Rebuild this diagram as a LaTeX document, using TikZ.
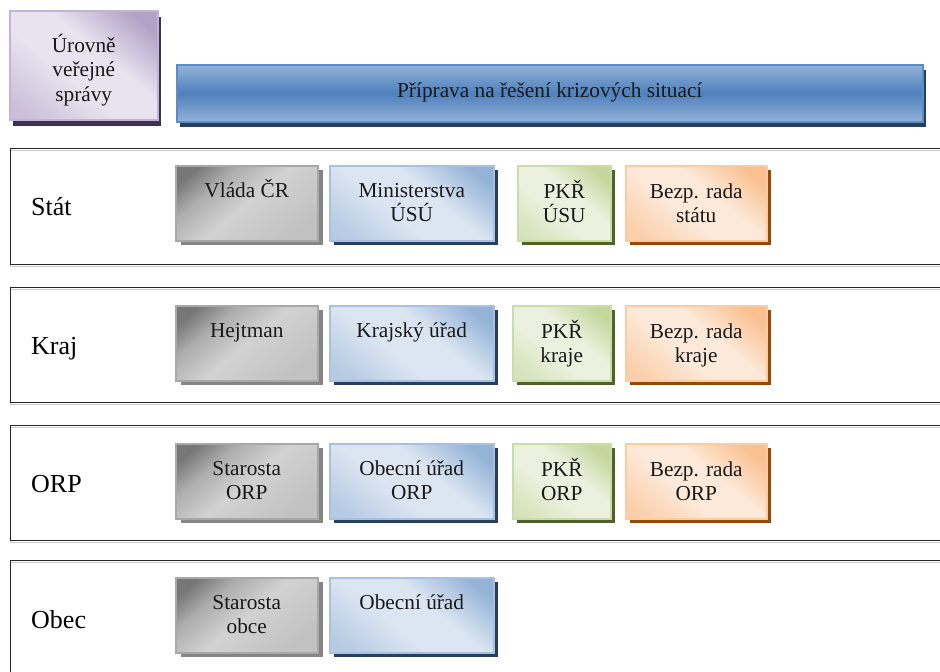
\documentclass[tikz,border=0pt]{standalone}
\usepackage{fontspec}
\setmainfont{Liberation Serif}
\definecolor{gDark}{HTML}{777777}
\definecolor{gLight}{HTML}{D2D2D2}
\definecolor{gMid}{HTML}{C2C2C2}
\definecolor{gBorder}{HTML}{A8A8A8}
\definecolor{gShadow}{HTML}{858585}
\definecolor{bLight}{HTML}{DCE6F2}
\definecolor{bDark}{HTML}{95B3D7}
\definecolor{bBorder}{HTML}{A9C1DF}
\definecolor{bShadow}{HTML}{254061}
\definecolor{grLight}{HTML}{EBF1DE}
\definecolor{grDark}{HTML}{C3D69B}
\definecolor{grBorder}{HTML}{CBDCA8}
\definecolor{grShadow}{HTML}{4F6228}
\definecolor{oLight}{HTML}{FDE9D9}
\definecolor{oDark}{HTML}{FAC090}
\definecolor{oBorder}{HTML}{FBCBA4}
\definecolor{oShadow}{HTML}{984807}
\definecolor{pLight}{HTML}{E8E3EF}
\definecolor{pDark}{HTML}{B3A2C7}
\definecolor{pBorder}{HTML}{C2B4D6}
\definecolor{pShadow}{HTML}{3F3151}
\definecolor{hLight}{HTML}{95B3D7}
\definecolor{hDark}{HTML}{4F81BD}
\definecolor{hBorder}{HTML}{5B8CC8}
\definecolor{hShadow}{HTML}{243F60}
% vertical shadings: color(0bp) is at the bottom, color(100bp) at the top
\pgfdeclareverticalshading{graySh}{100bp}{color(0bp)=(gMid); color(25bp)=(gMid); color(50bp)=(gLight); color(66bp)=(gLight!60!gDark); color(78bp)=(gDark); color(100bp)=(gDark)}
\pgfdeclareverticalshading{blueSh}{100bp}{color(0bp)=(bDark!70!bLight); color(22bp)=(bDark!50!bLight); color(42bp)=(bLight); color(58bp)=(bLight); color(78bp)=(bDark); color(100bp)=(bDark)}
\pgfdeclareverticalshading{greenSh}{100bp}{color(0bp)=(grDark!70!grLight); color(22bp)=(grDark!50!grLight); color(42bp)=(grLight); color(58bp)=(grLight); color(78bp)=(grDark); color(100bp)=(grDark)}
\pgfdeclareverticalshading{orangeSh}{100bp}{color(0bp)=(oDark!80!oLight); color(22bp)=(oDark!60!oLight); color(42bp)=(oLight); color(58bp)=(oLight); color(78bp)=(oDark); color(100bp)=(oDark)}
\pgfdeclareverticalshading{purpleSh}{100bp}{color(0bp)=(pDark!80!pLight); color(22bp)=(pDark!50!pLight); color(42bp)=(pLight); color(58bp)=(pLight); color(78bp)=(pDark); color(100bp)=(pDark)}
\pgfdeclareverticalshading{headSh}{100bp}{color(0bp)=(hLight); color(25bp)=(hLight); color(42bp)=(hDark!70!hLight); color(50bp)=(hDark); color(58bp)=(hDark!70!hLight); color(75bp)=(hLight); color(100bp)=(hLight)}
\tikzset{
  sbox/.style={inner sep=0pt, line width=1.5pt},
  graybox/.style={sbox, draw=gBorder,
    preaction={fill=gShadow, transform canvas={xshift=5pt,yshift=-4pt}},
    shading=graySh, shading angle=40},
  bluebox/.style={sbox, draw=bBorder,
    preaction={fill=bShadow, transform canvas={xshift=4pt,yshift=-4pt}},
    shading=blueSh, shading angle=-40},
  greenbox/.style={sbox, draw=grBorder,
    preaction={fill=grShadow, transform canvas={xshift=4pt,yshift=-4pt}},
    shading=greenSh, shading angle=-40},
  orangebox/.style={sbox, draw=oBorder,
    preaction={fill=oShadow, transform canvas={xshift=4pt,yshift=-4pt}},
    shading=orangeSh, shading angle=-40},
  purplebox/.style={sbox, draw=pBorder,
    preaction={fill=pShadow, transform canvas={xshift=3pt,yshift=-6pt}},
    shading=purpleSh, shading angle=-40},
  headbox/.style={sbox, draw=hBorder,
    preaction={fill=hShadow, transform canvas={xshift=3pt,yshift=-5pt}},
    shading=headSh},
  frame/.style={draw=black!85, line width=1.3pt, inner sep=0pt, anchor=north west,
    preaction={draw=black!20, line width=1pt, transform canvas={yshift=-1.5pt}}},
  lbl/.style={inner sep=0pt, anchor=base west, font=\fontsize{26}{30}\selectfont},
  txt/.style={inner sep=0pt, anchor=base, font=\fontsize{21.3}{24.5}\selectfont, text=black!90},
}
% name, style, x, y, width, height, text, baseline offset
\newcommand\mybox[8]{%
  \node[#2, minimum width=#5pt, minimum height=#6pt, anchor=north west] (#1) at (#3,#4) {};
  \node[txt] (#1t) at ([yshift=-#8pt]#1.north) {\parbox[t]{#5pt}{\centering #7}};
}
\begin{document}
\begin{tikzpicture}[x=1pt,y=-1pt]
\useasboundingbox (0,0) rectangle (940,672);
% row frames
\node[frame, minimum width=950pt, minimum height=116pt] (fStat) at (10,148) {};
\node[frame, minimum width=950pt, minimum height=115pt] (fKraj) at (10,287) {};
\node[frame, minimum width=950pt, minimum height=115pt] (fORP) at (10,425) {};
\node[frame, minimum width=950pt, minimum height=150pt] (fObec) at (10,560) {};
% row labels
\node[lbl] (lStat) at (31,215) {Stát};
\node[lbl] (lKraj) at (31,354) {Kraj};
\node[lbl] (lORP) at (31,492) {ORP};
\node[lbl] (lObec) at (31,628) {Obec};
% header
\mybox{uroven}{purplebox}{9}{10}{148}{109}{Úrovně\\veřejné\\správy}{42}
\mybox{head}{headbox}{176}{64}{746}{57}{Příprava na řešení krizových situací}{33}
% Stát
\mybox{s1}{graybox}{175}{165}{142}{75}{Vláda ČR}{32}
\mybox{s2}{bluebox}{329}{165}{164}{75}{Ministerstva\\ÚSÚ}{32}
\mybox{s3}{greenbox}{517}{165}{93}{75}{PKŘ\\ÚSU}{33}
\mybox{s4}{orangebox}{625}{165}{141}{75}{Bezp. rada\\státu}{33}
% Kraj
\mybox{k1}{graybox}{175}{305}{142}{75}{Hejtman}{32}
\mybox{k2}{bluebox}{329}{305}{164}{75}{Krajský úřad}{32}
\mybox{k3}{greenbox}{512}{305}{98}{75}{PKŘ\\kraje}{33}
\mybox{k4}{orangebox}{625}{305}{141}{75}{Bezp. rada\\kraje}{33}
% ORP
\mybox{o1}{graybox}{175}{443}{142}{75}{Starosta\\ORP}{32}
\mybox{o2}{bluebox}{329}{443}{164}{75}{Obecní úřad\\ORP}{32}
\mybox{o3}{greenbox}{512}{443}{98}{75}{PKŘ\\ORP}{33}
\mybox{o4}{orangebox}{625}{443}{141}{75}{Bezp. rada\\ORP}{33}
% Obec
\mybox{b1}{graybox}{175}{577}{142}{75}{Starosta\\obce}{32}
\mybox{b2}{bluebox}{329}{577}{164}{75}{Obecní úřad}{32}
\end{tikzpicture}
\end{document}
